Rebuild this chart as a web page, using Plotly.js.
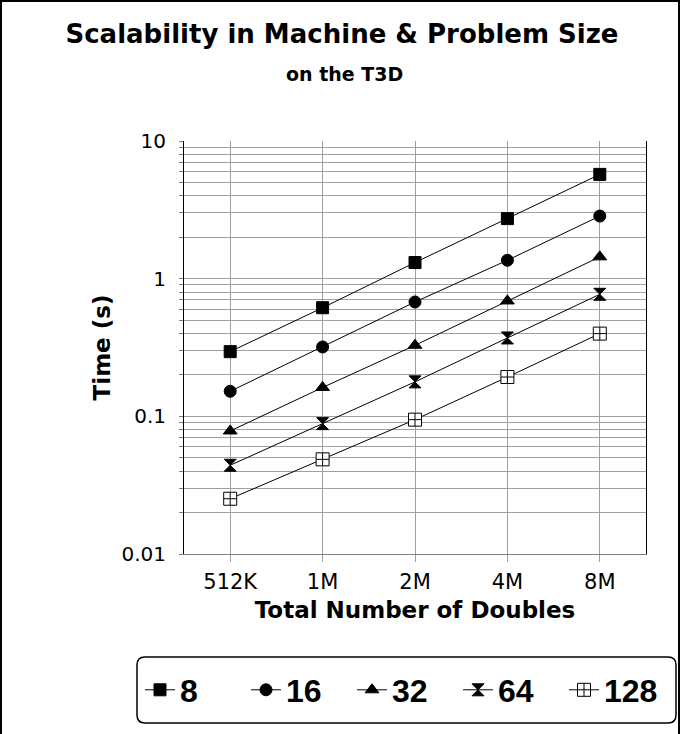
<!DOCTYPE html>
<html><head><meta charset="utf-8">
<script src="https://cdn.plot.ly/plotly-3.0.1.min.js"></script>
<style>html,body{margin:0;padding:0;background:#fff}#chart{width:684px;height:734px}</style>
</head><body><div id="chart"></div>
<script>
// ---- data ----
const categories = ['512K', '1M', '2M', '4M', '8M'];
const seriesNames = ['8', '16', '32', '64', '128'];
const t8   = [0.295, 0.615, 1.31, 2.73, 5.72];
const t16  = [0.152, 0.319, 0.677, 1.36, 2.85];
const t32  = [0.0783, 0.162, 0.328, 0.689, 1.44];
const t64  = [0.0441, 0.0885, 0.178, 0.371, 0.77];
const t128 = [0.0252, 0.0487, 0.0946, 0.193, 0.399];
const yTickVals = [0.01, 0.1, 1, 10];
const yTickText = ['0.01', '0.1', '1', '10'];

// ---- styles ----
const seriesValues = [t8, t16, t32, t64, t128];
const symbols = ['square', 'circle', 'triangle-up', 'hourglass', 'square-cross'];
const fills = ['#000', '#000', '#000', '#000', '#fff'];
const sizes = [12, 12, 12, 12, 13];

const W = 684, H = 734, L = 184, R = 646, T = 141, B = 554;
const px = x => (x - L) / (R - L);
const py = y => (B - y) / (B - T);

const traces = seriesValues.map((vals, i) => ({
  type: 'scatter', mode: 'lines+markers',
  x: categories, y: vals, name: seriesNames[i],
  line: {color: '#000', width: 1},
  marker: {symbol: symbols[i], size: sizes[i], color: fills[i], line: {color: '#000', width: 1}},
  cliponaxis: false
}));

// rounded legend frame
function roundRect(x0, y0, x1, y1, r) {
  const P = (x, y) => px(x) + ',' + py(y);
  return 'M' + P(x0 + r, y0) + ' L' + P(x1 - r, y0) + ' Q' + P(x1, y0) + ' ' + P(x1, y0 + r) +
    ' L' + P(x1, y1 - r) + ' Q' + P(x1, y1) + ' ' + P(x1 - r, y1) +
    ' L' + P(x0 + r, y1) + ' Q' + P(x0, y1) + ' ' + P(x0, y1 - r) +
    ' L' + P(x0, y0 + r) + ' Q' + P(x0, y0) + ' ' + P(x0 + r, y0) + ' Z';
}

const gridCol = '#a0a0a0';
const layout = {
  width: W, height: H,
  margin: {l: L, r: W - R, t: T, b: H - B, pad: 0},
  paper_bgcolor: '#fff', plot_bgcolor: '#fff',
  font: {family: 'DejaVu Sans', color: '#000'},
  showlegend: true,
  title: {
    text: 'Scalability in Machine &amp; Problem Size',
    font: {family: 'DejaVu Sans', size: 26, weight: 'bold', color: '#000'},
    x: 0.5, xref: 'container', xanchor: 'center',
    y: 1 - 34 / H, yref: 'container', yanchor: 'middle'
  },
  annotations: [{
    text: 'on the T3D', showarrow: false,
    xref: 'paper', yref: 'paper', x: px(344), y: py(74), xanchor: 'center', yanchor: 'middle',
    font: {family: 'DejaVu Sans', size: 19, weight: 'bold', color: '#000'}
  }],
  xaxis: {
    type: 'category', range: [-0.5, 4.5],
    showgrid: true, gridcolor: gridCol, gridwidth: 1,
    showline: true, linecolor: '#808080', linewidth: 1,
    ticks: 'outside', ticklen: 7, tickcolor: gridCol, tickwidth: 1,
    tickfont: {family: 'DejaVu Sans', size: 21, color: '#000'},
    ticklabelstandoff: 2,
    zeroline: false, fixedrange: true,
    title: {text: 'Total Number of Doubles', standoff: 8,
      font: {family: 'DejaVu Sans', size: 23, weight: 'bold', color: '#000'}}
  },
  yaxis: {
    type: 'log', range: [-2, 1],
    tickmode: 'array', tickvals: yTickVals, ticktext: yTickText,
    showgrid: true, gridcolor: gridCol, gridwidth: 1,
    showline: true, linecolor: '#000', linewidth: 1, mirror: true,
    ticks: 'outside', ticklen: 4, tickcolor: '#808080', tickwidth: 1,
    tickfont: {family: 'DejaVu Sans', size: 20, color: '#000'},
    ticklabelstandoff: 9,
    minor: {dtick: 'D1', showgrid: true, gridcolor: gridCol, gridwidth: 1,
      ticks: 'outside', ticklen: 4, tickcolor: '#808080'},
    zeroline: false, fixedrange: true,
    title: {text: 'Time (s)', standoff: 4,
      font: {family: 'DejaVu Sans', size: 23, weight: 'bold', color: '#000'}}
  },
  legend: {
    orientation: 'h', xref: 'paper', yref: 'paper',
    x: px(140), xanchor: 'left', y: py(690), yanchor: 'middle',
    entrywidth: 61, entrywidthmode: 'pixels',
    bgcolor: 'rgba(0,0,0,0)', borderwidth: 0,
    font: {family: 'Liberation Sans', size: 32, weight: 'bold', color: '#000'},
    traceorder: 'normal'
  },
  shapes: [
    {type: 'rect', xref: 'paper', yref: 'paper', x0: px(1), x1: px(679), y0: py(1), y1: py(770),
      line: {color: '#000', width: 2}, fillcolor: 'rgba(0,0,0,0)', layer: 'above'},
    {type: 'path', xref: 'paper', yref: 'paper', path: roundRect(137, 657, 676, 723, 8),
      line: {color: '#000', width: 1.5}, fillcolor: 'rgba(0,0,0,0)', layer: 'above'}
  ]
};

Plotly.newPlot('chart', traces, layout, {staticPlot: true, displayModeBar: false});
</script>
</body></html>
